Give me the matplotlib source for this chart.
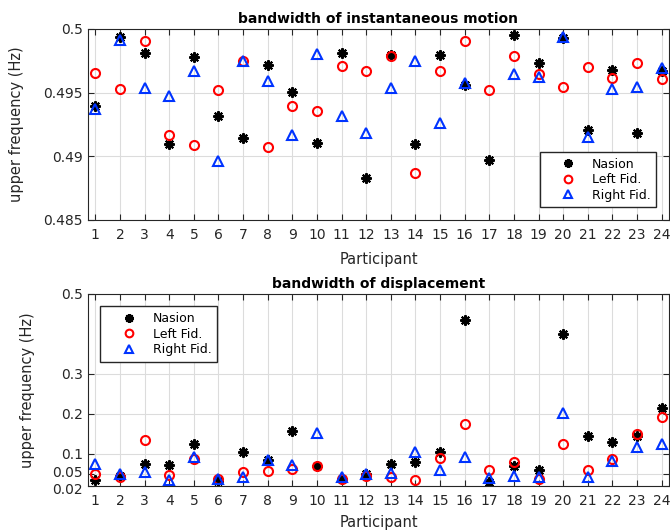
import matplotlib.pyplot as plt
import matplotlib.transforms as mtransforms
import numpy as np
from matplotlib.ticker import FuncFormatter

participants = np.arange(1, 25)

# bandwidth of instantaneous motion (Hz)
inst_nasion = [0.49395, 0.49935, 0.49814, 0.49097, 0.49783, 0.49314, 0.49144, 0.49720,
               0.49508, 0.49107, 0.49814, 0.48827, 0.49793, 0.49094, 0.49793, 0.49563,
               0.48969, 0.49950, 0.49733, 0.49932, 0.49204, 0.49678, 0.49186, 0.49670]
inst_left = [0.49652, 0.49531, 0.49908, 0.49168, 0.49086, 0.49518, 0.49746, 0.49076,
             0.49393, 0.49359, 0.49707, 0.49673, 0.49785, 0.48869, 0.49673, 0.49903,
             0.49524, 0.49790, 0.49644, 0.49542, 0.49699, 0.49618, 0.49736, 0.49607]
inst_right = [0.49374, 0.49914, 0.49534, 0.49471, 0.49670, 0.48963, 0.49751, 0.49592,
              0.49168, 0.49804, 0.49314, 0.49181, 0.49537, 0.49751, 0.49262, 0.49576,
              np.nan, 0.49644, 0.49620, 0.49935, 0.49154, 0.49529, 0.49542, 0.49696]

# bandwidth of displacement (Hz)
disp_nasion = [0.0351, 0.0459, 0.0760, 0.0726, 0.1260, 0.0326, 0.1052, 0.0843,
               0.1578, 0.0693, 0.0376, 0.0492, 0.0743, 0.0801, 0.1060, 0.4349,
               0.0300, 0.0693, 0.0593, 0.3998, 0.1461, 0.1310, 0.1452, 0.2154]
disp_left = [0.0509, 0.0426, 0.1344, 0.0484, 0.0876, 0.0367, 0.0551, 0.0568,
             0.0626, 0.0710, 0.0376, 0.0459, 0.0426, 0.0351, 0.0901, 0.1761,
             0.0609, 0.0793, 0.0367, 0.1252, 0.0593, 0.0868, 0.1494, 0.1912]
disp_right = [0.0760, 0.0492, 0.0543, 0.0351, 0.0918, 0.0367, 0.0417, 0.0860,
              0.0718, 0.1528, 0.0417, 0.0500, 0.0526, 0.1043, 0.0593, 0.0927,
              0.0392, 0.0442, 0.0434, 0.2020, 0.0426, 0.0835, 0.1177, 0.1244]

top_ticks = [0.485, 0.49, 0.495, 0.5]
bottom_ticks = [0.02, 0.05, 0.1, 0.2, 0.3, 0.5]

plt.rcParams['font.family'] = ['DejaVu Sans']
dark = '#262626'

fig = plt.figure(figsize=(6.7, 5.32), dpi=100)
ax1 = fig.add_axes([0.1313, 0.5865, 0.8672, 0.359])
ax2 = fig.add_axes([0.1313, 0.0865, 0.8672, 0.361])


def draw(ax, nas, left, right, ylim, yticks, title, legend_loc):
    ax.plot(participants, nas, linestyle='none', marker=(8, 2, 0), markersize=7.5,
            markeredgewidth=1.5, color='black', label='Nasion')
    ax.plot(participants, left, linestyle='none', marker='o', markersize=6.5,
            markerfacecolor='none', markeredgewidth=1.5, markeredgecolor='#ff0000',
            label='Left Fid.')
    ax.plot(participants, right, linestyle='none', marker='^', markersize=6.5,
            markerfacecolor='none', markeredgewidth=1.5, markeredgecolor='#0033ff',
            label='Right Fid.')
    ax.set_xlim(0.7, 24.3)
    ax.set_ylim(*ylim)
    ax.set_xticks(participants)
    ax.set_yticks(yticks)
    ax.yaxis.set_major_formatter(FuncFormatter(lambda v, p: '%g' % v))
    ax.grid(True, color='#dcdcdc', linewidth=0.8)
    ax.set_axisbelow(True)
    ax.tick_params(direction='in', top=True, right=True, labelsize=10,
                   colors=dark, length=4)
    ax.tick_params(axis='x', pad=6)
    for s in ax.spines.values():
        s.set_color(dark)
    ax.set_title(title, fontsize=10, fontweight='bold', pad=4)
    ax.set_xlabel('Participant', fontsize=10.5, color=dark)
    ax.set_ylabel('upper frequency (Hz)', fontsize=10.5, color=dark)
    leg = ax.legend(loc=legend_loc, fontsize=9, fancybox=False, framealpha=1,
                    edgecolor=dark, borderaxespad=1.0, handlelength=3.6,
                    handletextpad=0.15, borderpad=0.45, labelspacing=0.2,
                    markerscale=0.85)
    leg.get_frame().set_linewidth(1.0)


draw(ax1, inst_nasion, inst_left, inst_right, (0.485, 0.5), top_ticks,
     'bandwidth of instantaneous motion', 'lower right')
draw(ax2, disp_nasion, disp_left, disp_right, (0.02, 0.5), bottom_ticks,
     'bandwidth of displacement', 'upper left')

ax1.yaxis.set_label_coords(-0.110, 0.5)
ax2.yaxis.set_label_coords(-0.091, 0.5)
ax1.xaxis.set_label_coords(0.5, -0.17)
ax2.xaxis.set_label_coords(0.5, -0.15)

# keep the two crowded bottom labels apart
fig.canvas.draw()
for lab in ax2.get_yticklabels():
    if lab.get_text() == '0.05':
        lab.set_transform(lab.get_transform() + mtransforms.ScaledTranslation(0, 1.5 / 72, fig.dpi_scale_trans))
    if lab.get_text() == '0.02':
        lab.set_transform(lab.get_transform() + mtransforms.ScaledTranslation(0, -1.5 / 72, fig.dpi_scale_trans))

fig.savefig('out.png', dpi=100)
